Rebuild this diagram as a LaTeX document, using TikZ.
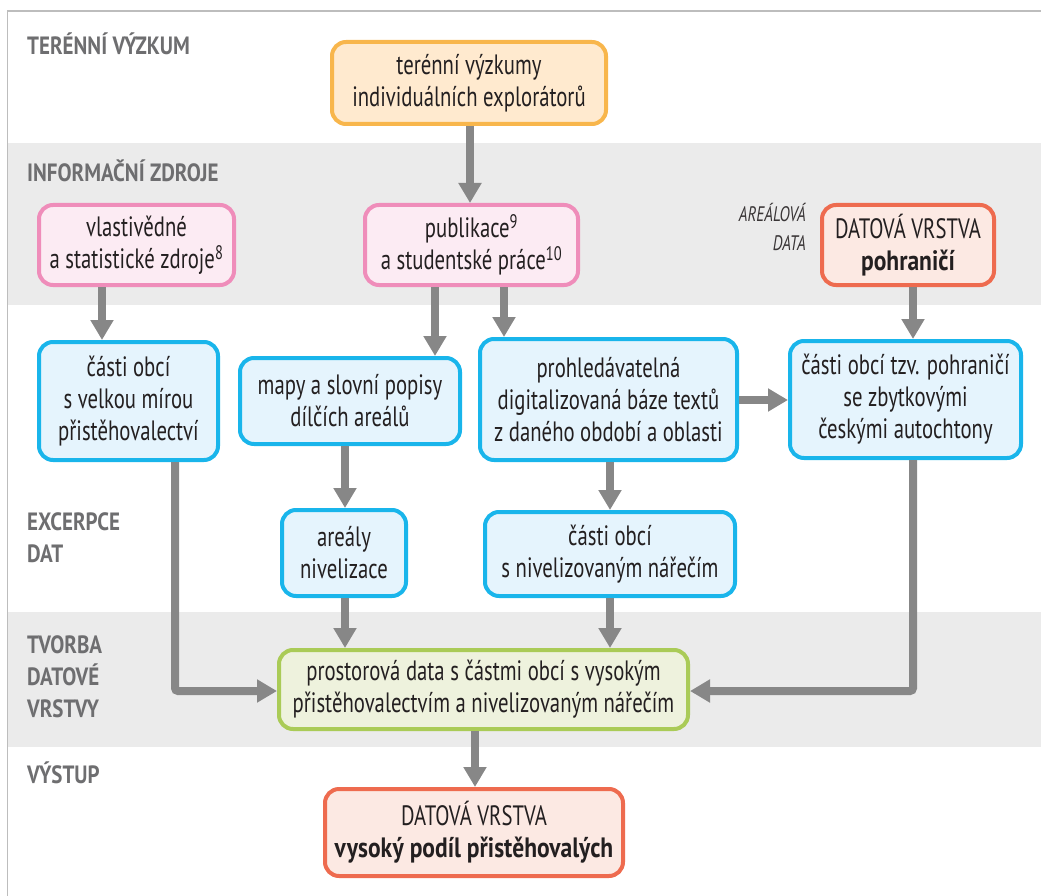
\documentclass[tikz,border=0pt]{standalone}
\usepackage{fontspec}
\setmainfont{PT Sans}[FakeStretch=0.74, BoldFeatures={FakeStretch=0.84}]
\usetikzlibrary{arrows.meta}
\definecolor{bandgray}{HTML}{EBEBEB}
\definecolor{framegray}{HTML}{BDBDBD}
\definecolor{labgray}{HTML}{6E6E70}
\definecolor{arrgray}{HTML}{878787}
\definecolor{txt}{HTML}{231F20}
\definecolor{orB}{HTML}{F8B64C}\definecolor{orF}{HTML}{FFEACF}
\definecolor{piB}{HTML}{EF8DBA}\definecolor{piF}{HTML}{FCEBF3}
\definecolor{reB}{HTML}{EE6B4F}\definecolor{reF}{HTML}{FCE9E3}
\definecolor{blB}{HTML}{19B5EB}\definecolor{blF}{HTML}{E5F4FD}
\definecolor{grB}{HTML}{AACB57}\definecolor{grF}{HTML}{EEF2DD}
\newcommand\boxfont{\fontsize{28}{32}\selectfont}
\newcommand\labfont{\fontsize{25}{32}\selectfont\bfseries}
\tikzset{
  box/.style={rounded corners=14pt, line width=4pt, align=center, inner sep=0pt, font=\boxfont, text=txt},
  orbox/.style={box, draw=orB, fill=orF},
  pibox/.style={box, draw=piB, fill=piF},
  rebox/.style={box, draw=reB, fill=reF},
  blbox/.style={box, draw=blB, fill=blF},
  grbox/.style={box, draw=grB, fill=grF},
  lab/.style={anchor=base west, inner sep=0pt, font=\labfont, text=labgray},
  arlab/.style={anchor=base east, inner sep=0pt, font=\fontsize{21}{28}\selectfont\itshape, text=txt!90},
  arr/.style={draw=arrgray, line width=8pt, rounded corners=3pt, -{Triangle[width=22pt,length=20pt]}},
}
\begin{document}
\begin{tikzpicture}[x=1pt,y=-1pt]
\useasboundingbox (0,0) rectangle (1041,896);
% bands and frame
\fill[bandgray] (8,143) rectangle (1041,305);
\fill[bandgray] (8,612) rectangle (1041,747);
\draw[framegray, line width=1.5pt] (7.5,896) -- (7.5,11) -- (1041,11);
% row labels
\node[lab] (l1) at (27,55) {TERÉNNÍ VÝZKUM};
\node[lab] (l2) at (27,182) {INFORMAČNÍ ZDROJE};
\node[lab] (l3a) at (27,530) {EXCERPCE};
\node[lab] (l3b) at (27,562) {DAT};
\node[lab] (l4a) at (27,653) {TVORBA};
\node[lab] (l4b) at (27,685) {DATOVÉ};
\node[lab] (l4c) at (27,717) {VRSTVY};
\node[lab] (l5) at (27,783) {VÝSTUP};
\node[arlab] (ar1) at (806,222) {AREÁLOVÁ};
\node[arlab] (ar2) at (806,250) {DATA};
% boxes
\node[orbox, minimum width=274pt, minimum height=82pt] (orange) at (469,83) {terénní výzkumy\\individuálních explorátorů};
\node[pibox, minimum width=195pt, minimum height=80pt] (pink1) at (136.5,245) {vlastivědné\\a statistické zdroje\textsuperscript{8}};
\node[pibox, minimum width=213pt, minimum height=80pt] (pink2) at (471.5,245) {publikace\textsuperscript{9}\\a studentské práce\textsuperscript{10}};
\node[rebox, minimum width=172pt, minimum height=80pt] (red1) at (908,245) {DATOVÁ VRSTVA\\\textbf{pohraničí}};
\node[blbox, minimum width=179pt, minimum height=118pt] (blue1) at (128.5,401) {části obcí\\s velkou mírou\\přistěhovalectví};
\node[blbox, minimum width=220pt, minimum height=86pt] (blue2) at (350,401) {mapy a slovní popisy\\dílčích areálů};
\node[blbox, minimum width=257pt, minimum height=121pt] (blue3) at (608.5,399.5) {prohledávatelná\\digitalizovaná báze textů\\z daného období a oblasti};
\node[blbox, minimum width=231pt, minimum height=117pt] (blue4) at (905.5,399.5) {části obcí tzv. pohraničí\\se zbytkovými\\českými autochtony};
\node[blbox, minimum width=124pt, minimum height=86pt] (blue5) at (344,553) {areály\\nivelizace};
\node[blbox, minimum width=250pt, minimum height=84pt] (blue6) at (610,554) {části obcí\\s nivelizovaným nářečím};
\node[grbox, minimum width=409pt, minimum height=79pt] (green) at (483.5,689.5) {prostorová data s částmi obcí s vysokým\\přistěhovalectvím a nivelizovaným nářečím};
\node[rebox, minimum width=298pt, minimum height=87pt] (out) at (474,832.5) {DATOVÁ VRSTVA\\\textbf{vysoký podíl přistěhovalých}};
% helper coordinates
\coordinate (c102) at (102,0);
\coordinate (c175) at (175,0);
\coordinate (c345) at (345,0);
\coordinate (c435) at (435,0);
\coordinate (c470) at (470,0);
\coordinate (c475) at (475,0);
\coordinate (c504) at (504,0);
\coordinate (c610) at (610,0);
\coordinate (c913) at (913,0);
\coordinate (r400) at (0,400);
\coordinate (r691) at (0,691);
% connectors
\draw[arr] (orange.south -| c470) -- (pink2.north -| c470);
\draw[arr] (pink1.south -| c102) -- (blue1.north -| c102);
\draw[arr] (pink2.south -| c435) -- (blue2.north -| c435);
\draw[arr] (pink2.south -| c504) -- (blue3.north -| c504);
\draw[arr] (red1.south -| c913) -- (blue4.north -| c913);
\draw[arr] (blue3.east |- r400) -- (blue4.west |- r400);
\draw[arr] (blue2.south -| c345) -- (blue5.north -| c345);
\draw[arr] (blue3.south -| c610) -- (blue6.north -| c610);
\draw[arr] (blue5.south -| c345) -- (green.north -| c345);
\draw[arr] (blue6.south -| c610) -- (green.north -| c610);
\draw[arr] (blue1.south -| c175) |- (green.west |- r691);
\draw[arr] (blue4.south -| c913) |- (green.east |- r691);
\draw[arr] (green.south -| c475) -- (out.north -| c475);
\end{tikzpicture}
\end{document}
